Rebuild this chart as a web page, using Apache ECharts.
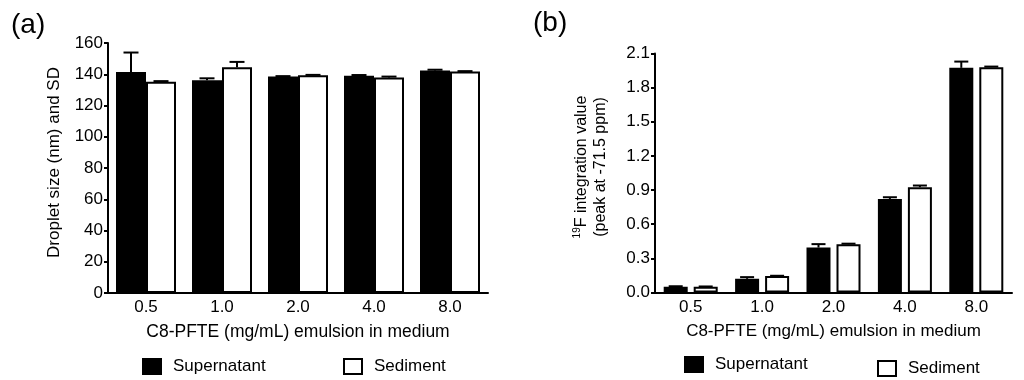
<!DOCTYPE html>
<html>
<head>
<meta charset="utf-8">
<script src="https://cdn.jsdelivr.net/npm/echarts@6.0.0/dist/echarts.min.js"></script>
<style>
html,body{margin:0;padding:0;background:#fff;}
#chart{width:1024px;height:380px;}
</style>
</head>
<body>
<div id="chart"></div>
<script>
// ---- data ----
const categories = ['0.5', '1.0', '2.0', '4.0', '8.0'];
// (a) droplet size (nm) and SD
const sizeSupernatant   = [141.5, 136.2, 138.5, 139.0, 142.4];
const sizeSupernatantSD = [12.4, 1.2, 0.3, 0.5, 0.5];
const sizeSediment      = [135.2, 144.5, 139.3, 138.0, 141.8];
const sizeSedimentSD    = [0.4, 3.4, 0.3, 0.5, 0.2];
// (b) 19F integration value
const f19Supernatant    = [0.05, 0.12, 0.395, 0.822, 1.974];
const f19SupernatantSD  = [0.005, 0.015, 0.03, 0.015, 0.055];
const f19Sediment       = [0.05, 0.144, 0.424, 0.925, 1.98];
const f19SedimentSD     = [0.003, 0.003, 0.005, 0.015, 0.005];
const seriesNames = ['Supernatant', 'Sediment'];

const FONT = 'Liberation Sans, Arial, sans-serif';
const BAR_W_A = 30, GAP_A = 0;      // left chart bar width / gap (px)
const BAR_W_B = 24, GAP_B = 6;      // right chart

function errData(vals, sds) { return vals.map((v, i) => [i, v, sds[i]]); }

function errSeries(name, vals, sds, gridIdx, offset, capW) {
  return {
    type: 'custom', name: name + '-sd', xAxisIndex: gridIdx, yAxisIndex: gridIdx, z: 5,
    data: errData(vals, sds),
    renderItem: function (params, api) {
      const i = api.value(0), v = api.value(1), sd = api.value(2);
      const base = api.coord([i, v]);
      const top = api.coord([i, v + sd]);
      const x = base[0] + offset;
      return {
        type: 'group',
        children: [
          { type: 'line', shape: { x1: x, y1: base[1], x2: x, y2: top[1] }, style: { stroke: '#000', lineWidth: 2 } },
          { type: 'line', shape: { x1: x - capW / 2, y1: top[1], x2: x + capW / 2, y2: top[1] }, style: { stroke: '#000', lineWidth: 2 } }
        ]
      };
    }
  };
}

const axisLine = { show: true, lineStyle: { color: '#000', width: 2 } };
const labelStyle = { color: '#000', fontFamily: FONT, fontSize: 17 };

function legend(name, left, top) {
  return {
    data: [name], left: left, top: top, orient: 'horizontal', icon: 'rect',
    itemWidth: 18, itemHeight: 15, padding: 0, selectedMode: false,
    textStyle: { color: '#000', fontFamily: FONT, fontSize: 17, padding: [0, 0, 0, 7] }
  };
}

const blackStyle = { color: '#000', borderColor: '#000', borderWidth: 2 };
const whiteStyle = { color: '#fff', borderColor: '#000', borderWidth: 2 };

const option = {
  animation: false,
  backgroundColor: '#fff',
  title: [
    { text: '(a)', left: 6, top: 6, textStyle: { fontFamily: FONT, fontSize: 28, fontWeight: 'normal', color: '#000' } },
    { text: '(b)', left: 528, top: 4, textStyle: { fontFamily: FONT, fontSize: 28, fontWeight: 'normal', color: '#000' } }
  ],
  legend: [
    legend('Supernatant', 142, 358),
    legend('Sediment', 343, 358),
    legend('Supernatant', 684, 356),
    legend('Sediment', 877, 360)
  ],
  grid: [
    { left: 108, top: 43, width: 380, height: 250 },
    { left: 655, top: 53.5, width: 357, height: 239 }
  ],
  xAxis: [
    {
      gridIndex: 0, type: 'category', data: categories,
      axisLine: axisLine, axisTick: { show: false },
      axisLabel: Object.assign({ margin: 6 }, labelStyle),
      name: 'C8-PFTE (mg/mL) emulsion in medium', nameLocation: 'middle', nameGap: 30,
      nameTextStyle: { color: '#000', fontFamily: FONT, fontSize: 17.5 }
    },
    {
      gridIndex: 1, type: 'category', data: categories,
      axisLine: axisLine, axisTick: { show: false },
      axisLabel: Object.assign({ margin: 6 }, labelStyle),
      name: 'C8-PFTE (mg/mL) emulsion in medium', nameLocation: 'middle', nameGap: 30,
      nameTextStyle: { color: '#000', fontFamily: FONT, fontSize: 17 }
    }
  ],
  yAxis: [
    {
      gridIndex: 0, type: 'value', min: 0, max: 160, interval: 20,
      axisLine: axisLine, axisTick: { show: true, length: 4, lineStyle: { color: '#000', width: 2 } },
      splitLine: { show: false },
      axisLabel: Object.assign({ margin: 5 }, labelStyle),
      name: 'Droplet size (nm) and SD', nameLocation: 'middle', nameGap: 45,
      nameTextStyle: { color: '#000', fontFamily: FONT, fontSize: 17, padding: [0, 0, 0, 11] }
    },
    {
      gridIndex: 1, type: 'value', min: 0, max: 2.1, interval: 0.3,
      axisLine: axisLine, axisTick: { show: true, length: 4, lineStyle: { color: '#000', width: 2 } },
      splitLine: { show: false },
      axisLabel: Object.assign({ margin: 5, formatter: v => v.toFixed(1) }, labelStyle),
      name: '{sup|19}F integration value\n(peak at -71.5 ppm)', nameLocation: 'middle', nameGap: 45,
      nameTextStyle: {
        color: '#000', fontFamily: FONT, fontSize: 16, lineHeight: 19, padding: [0, 0, 0, 12],
        rich: { sup: { fontSize: 10, fontFamily: FONT, color: '#000', verticalAlign: 'top', lineHeight: 10 } }
      }
    }
  ],
  series: [
    { type: 'bar', name: seriesNames[0], xAxisIndex: 0, yAxisIndex: 0, data: sizeSupernatant, barWidth: BAR_W_A, barGap: (GAP_A / BAR_W_A * 100) + '%', itemStyle: blackStyle },
    { type: 'bar', name: seriesNames[1], xAxisIndex: 0, yAxisIndex: 0, data: sizeSediment, barWidth: BAR_W_A, itemStyle: whiteStyle },
    { type: 'bar', name: seriesNames[0], xAxisIndex: 1, yAxisIndex: 1, data: f19Supernatant, barWidth: BAR_W_B, barGap: (GAP_B / BAR_W_B * 100) + '%', itemStyle: blackStyle },
    { type: 'bar', name: seriesNames[1], xAxisIndex: 1, yAxisIndex: 1, data: f19Sediment, barWidth: BAR_W_B, itemStyle: whiteStyle },
    errSeries(seriesNames[0], sizeSupernatant, sizeSupernatantSD, 0, -(BAR_W_A + GAP_A) / 2, 15),
    errSeries(seriesNames[1], sizeSediment, sizeSedimentSD, 0, (BAR_W_A + GAP_A) / 2, 15),
    errSeries(seriesNames[0], f19Supernatant, f19SupernatantSD, 1, -(BAR_W_B + GAP_B) / 2, 14),
    errSeries(seriesNames[1], f19Sediment, f19SedimentSD, 1, (BAR_W_B + GAP_B) / 2, 14)
  ]
};

const chart = echarts.init(document.getElementById('chart'), null, { renderer: 'canvas' });
chart.setOption(option);
</script>
</body>
</html>
